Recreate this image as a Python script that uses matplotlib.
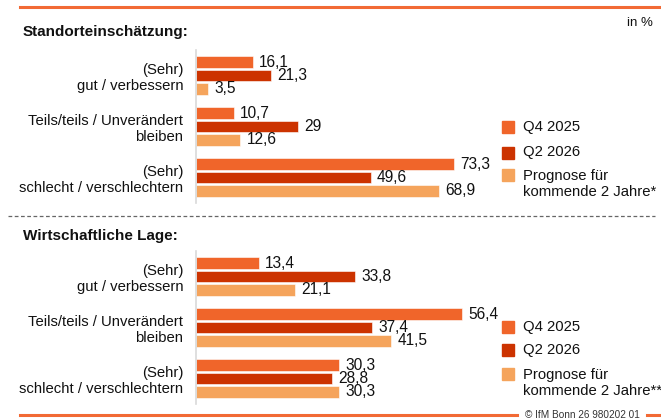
import matplotlib.pyplot as plt
from matplotlib.patches import Rectangle
from matplotlib.lines import Line2D

plt.rcParams['font.family'] = ['Liberation Sans', 'DejaVu Sans']

W, H = 661, 418

categories = ["(Sehr)\ngut / verbessern",
              "Teils/teils / Unverändert\nbleiben",
              "(Sehr)\nschlecht / verschlechtern"]
series = ["Q4 2025", "Q2 2026", "Prognose für\nkommende 2 Jahre*"]
series2 = ["Q4 2025", "Q2 2026", "Prognose für\nkommende 2 Jahre**"]
colors = ["#F0652A", "#CC3300", "#F5A45C"]

standort_q4 = [16.1, 10.7, 73.3]
standort_q2 = [21.3, 29.0, 49.6]
standort_prog = [3.5, 12.6, 68.9]

lage_q4 = [13.4, 56.4, 30.3]
lage_q2 = [33.8, 37.4, 28.8]
lage_prog = [21.1, 41.5, 30.3]


def px(x, y):
    # pixel (from top-left) -> figure fraction
    return x / W, 1 - y / H


fig = plt.figure(figsize=(W / 100, H / 100), dpi=100)


def panel(top, bottom, data, xmax):
    l, b = px(196, bottom)
    r, t = px(480, top)
    ax = fig.add_axes([l, b, r - l, t - b])
    offs = [-0.262, 0, 0.262]
    for k, vals in enumerate(data):
        ys = [i + offs[k] for i in range(len(vals))]
        bars = ax.barh(ys, vals, height=0.235, color=colors[k],
                       edgecolor='white', linewidth=0.4)
        ax.bar_label(bars, labels=[f"{v:g}".replace('.', ',') for v in vals],
                     padding=4.5, fontsize=11.2, color='#111111')
    ax.set_ylim(2.5, -0.5)
    ax.set_xlim(0, xmax)
    ax.set_yticks(range(len(categories)))
    ax.set_yticklabels(categories, fontsize=10.7, color='#111111')
    ax.tick_params(axis='y', length=0, pad=9)
    ax.set_xticks([])
    for s in ['top', 'right', 'bottom']:
        ax.spines[s].set_visible(False)
    ax.spines['left'].set_color('#D9D9D9')
    ax.spines['left'].set_linewidth(1.2)
    return ax


panel(50, 203, [standort_q4, standort_q2, standort_prog], 284 / 3.52)
panel(251, 404, [lage_q4, lage_q2, lage_prog], 284 / 4.71)


def legend(ys, labels):
    for (sq_y, txt_y), lab, c in zip(ys, labels, colors):
        x0, y0 = px(502, sq_y + 12)
        fig.patches.append(Rectangle((x0, y0), 12 / W, 12 / H, color=c,
                                     transform=fig.transFigure))
        tx, ty = px(523, txt_y)
        fig.text(tx, ty, lab, fontsize=10.7, va='top', ha='left',
                 color='#111111', linespacing=1.15)


legend([(121, 120), (147, 145), (169, 169)], series)
legend([(321, 320), (344, 343), (368, 368)], series2)

# titles and notes
fig.text(*px(23, 32), "Standorteinschätzung:", fontsize=11, weight='bold',
         va='center', color='#111111')
fig.text(*px(23, 236), "Wirtschaftliche Lage:", fontsize=11, weight='bold',
         va='center', color='#111111')
fig.text(*px(653, 23), "in %", fontsize=9.5, ha='right', va='center',
         color='#111111')

# decorative lines
line_col = '#F26A35'
fig.lines.append(Line2D([20 / W, 1], [1 - 6.5 / H] * 2, color=line_col, lw=2.2,
                        transform=fig.transFigure))
fig.lines.append(Line2D([8 / W, 655 / W], [1 - 215.5 / H] * 2, color='#666666',
                        lw=0.9, ls=(0, (3, 2)), transform=fig.transFigure))
fig.lines.append(Line2D([20 / W, 517 / W], [1 - 414.5 / H] * 2, color=line_col,
                        lw=2.2, transform=fig.transFigure))
fig.lines.append(Line2D([647 / W, 1], [1 - 414.5 / H] * 2, color=line_col,
                        lw=2.2, transform=fig.transFigure))
fig.text(*px(582, 414.5), "© IfM Bonn 26 980202 01", fontsize=7.2,
         ha='center', va='center', color='#333333')

fig.savefig("out.png", dpi=100)
